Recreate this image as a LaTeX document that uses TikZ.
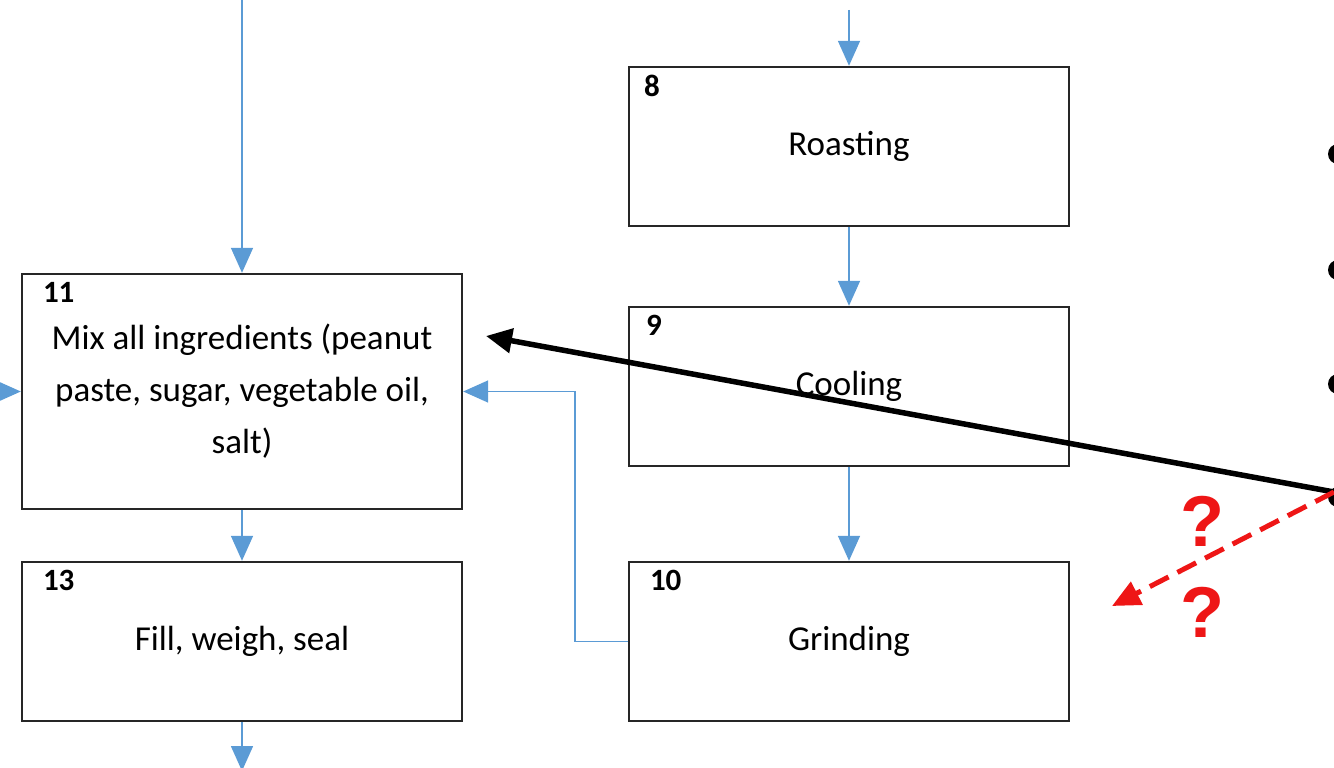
\documentclass[tikz,border=0pt]{standalone}
\usepackage{fontspec}
\setmainfont{Carlito}
\newfontfamily\markfont{Liberation Sans}
\usetikzlibrary{arrows.meta}
\definecolor{flowblue}{RGB}{91,155,213}
\definecolor{alertred}{RGB}{238,22,22}
\begin{document}
\begin{tikzpicture}[x=1pt,y=-1pt,
  stepbox/.style={draw=black!85, line width=2.4pt, fill=white,
    minimum width=440pt, minimum height=159pt, inner sep=0pt,
    align=center, font=\fontsize{35}{52}\selectfont},
  numtag/.style={anchor=north west, inner sep=0pt,
    font=\fontsize{31}{31}\selectfont\bfseries},
  flow/.style={draw=flowblue, line width=1.6pt,
    -{Triangle[width=22pt,length=25pt]}},
  pointer/.style={draw=black, line width=5.5pt,
    -{Triangle[width=24pt,length=26pt]}},
  guess/.style={draw=alertred, line width=5pt, dash pattern=on 21pt off 10pt,
    -{Triangle[width=25pt,length=28pt]}},
  qmark/.style={text=alertred, inner sep=0pt,
    font=\markfont\fontsize{72}{72}\selectfont\bfseries},
  bullet/.style={fill=black}
]
\useasboundingbox (0,0) rectangle (1334,768);
\clip (0,0) rectangle (1334,768);

% process steps
\node[stepbox] (b8)  at (849,146.5) {Roasting};
\node[stepbox] (b9)  at (849,386.5) {Cooling};
\node[stepbox] (b10) at (849,641.5) {Grinding};
\node[stepbox, minimum height=235pt] (b11) at (242,391.5)
  {Mix all ingredients (peanut\\paste, sugar, vegetable oil,\\salt)};
\node[stepbox] (b13) at (242,641.5) {Fill, weigh, seal};

% step numbers
\node[numtag] (n8)  at ([shift={(16,9)}]b8.north west)  {8};
\node[numtag] (n9)  at ([shift={(18,9)}]b9.north west)  {9};
\node[numtag] (n10) at ([shift={(22,9)}]b10.north west) {10};
\node[numtag] (n11) at ([shift={(22,9)}]b11.north west) {11};
\node[numtag] (n13) at ([shift={(22,9)}]b13.north west) {13};

% flow connectors
\coordinate (inL)  at (242,-5);
\coordinate (inR)  at (849,10);
\coordinate (outB) at (242,771);
\coordinate (inW)  at (-40,391.5);
\draw[flow] (inL) -- (b11.north);
\draw[flow] (inR) -- (b8.north);
\draw[flow] (b8.south) -- (b9.north);
\draw[flow] (b9.south) -- (b10.north);
\draw[flow] (b11.south) -- (b13.north);
\draw[flow] (b13.south) -- (outB);
\draw[flow] (inW) -- (b11.west);
\draw[flow] (b10.west) -- ++(-53,0) |- (b11.east);

% bullets at the right edge
\fill[bullet] (1338,154) circle (10);
\fill[bullet] (1338,270) circle (10);
\fill[bullet] (1338,384) circle (10);
\fill[bullet] (1338,497) circle (10);
\coordinate (src) at (1334,492);
\coordinate (guessTip) at (1112,606);
\coordinate (pointTip) at (486,336);

% annotation arrows
\draw[pointer] (src) -- (pointTip);
\draw[guess] (src) -- (guessTip);
\node[qmark] (q1) at (1202,521) {?};
\node[qmark] (q2) at (1202,612) {?};
\end{tikzpicture}
\end{document}
